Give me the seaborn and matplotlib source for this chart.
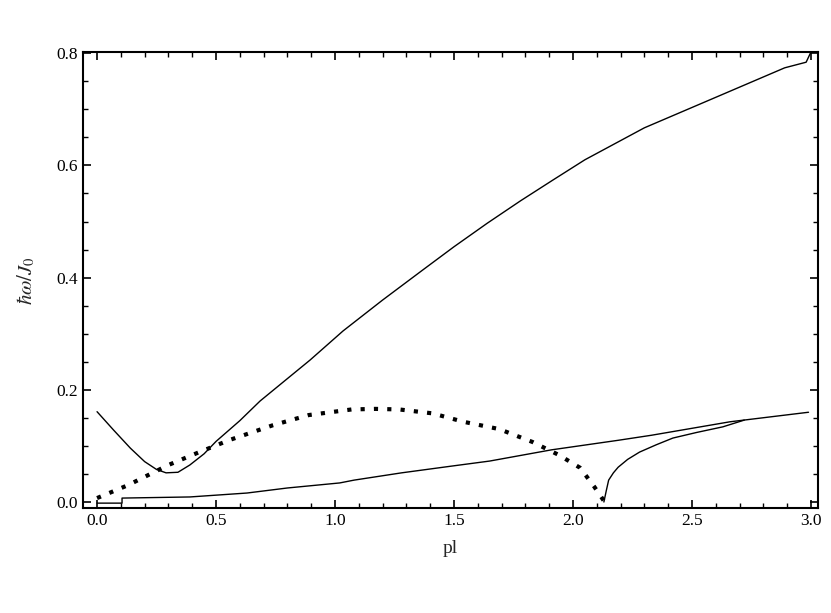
import matplotlib
matplotlib.use('Agg')
import matplotlib.pyplot as plt
from matplotlib.ticker import MultipleLocator, FormatStrFormatter
import seaborn as sns

# upper branch (solid)
upper_x = [0.0, 0.07, 0.14, 0.20, 0.25, 0.29, 0.34, 0.39, 0.45, 0.50, 0.60, 0.685,
           0.80, 0.895, 1.034, 1.20, 1.37, 1.50, 1.64, 1.78, 1.916, 2.05, 2.30, 2.62,
           2.89, 2.98, 3.00]
upper_y = [0.161, 0.128, 0.096, 0.072, 0.058, 0.052, 0.053, 0.066, 0.086, 0.108,
           0.145, 0.180, 0.220, 0.253, 0.305, 0.360, 0.414, 0.455, 0.497, 0.537,
           0.574, 0.610, 0.667, 0.725, 0.774, 0.784, 0.802]

# dotted branch
dotted_x = [0.0, 0.13, 0.215, 0.30, 0.43, 0.56, 0.74, 0.89, 0.98, 1.07, 1.17, 1.27,
            1.41, 1.54, 1.69, 1.83, 1.94, 2.03, 2.09, 2.13]
dotted_y = [0.007, 0.030, 0.048, 0.066, 0.089, 0.111, 0.137, 0.155, 0.160, 0.165,
            0.166, 0.165, 0.158, 0.143, 0.130, 0.107, 0.084, 0.061, 0.027, 0.002]

# lower branch (solid)
lower_x = [0.0, 0.105, 0.105, 0.39, 0.63, 0.80, 1.02, 1.08, 1.28, 1.49, 1.65, 1.91,
           2.19, 2.33, 2.66, 2.99]
lower_y = [-0.002, -0.002, 0.007, 0.009, 0.016, 0.025, 0.034, 0.039, 0.052, 0.064,
           0.073, 0.093, 0.110, 0.119, 0.143, 0.160]

# branch rising from the zero of the dotted curve
right_x = [2.13, 2.14, 2.15, 2.17, 2.19, 2.23, 2.28, 2.35, 2.42, 2.52, 2.63, 2.72]
right_y = [0.0, 0.02, 0.039, 0.052, 0.062, 0.076, 0.089, 0.102, 0.114, 0.124, 0.134, 0.146]

sns.set_style('ticks')
plt.rcParams['font.family'] = ['Liberation Serif', 'DejaVu Serif']
plt.rcParams['mathtext.fontset'] = 'stix'

fig = plt.figure(figsize=(8.31, 6.13), dpi=100)
ax = fig.add_axes([0.0999, 0.171, 0.8845, 0.744])

sns.lineplot(x=upper_x, y=upper_y, sort=False, estimator=None, color='black',
             linewidth=1.0, ax=ax)
sns.lineplot(x=lower_x, y=lower_y, sort=False, estimator=None, color='black',
             linewidth=1.0, ax=ax)
sns.lineplot(x=right_x, y=right_y, sort=False, estimator=None, color='black',
             linewidth=1.0, ax=ax)
sns.lineplot(x=dotted_x, y=dotted_y, sort=False, estimator=None, color='black',
             linewidth=3.0, linestyle=(0, (1, 2.2)), dash_capstyle='butt', ax=ax)

ax.set_xlim(-0.059, 3.03)
ax.set_ylim(-0.011, 0.802)
ax.xaxis.set_major_locator(MultipleLocator(0.5))
ax.xaxis.set_minor_locator(MultipleLocator(0.1))
ax.yaxis.set_major_locator(MultipleLocator(0.2))
ax.yaxis.set_minor_locator(MultipleLocator(0.05))
ax.xaxis.set_major_formatter(FormatStrFormatter('%.1f'))
ax.yaxis.set_major_formatter(FormatStrFormatter('%.1f'))
ax.tick_params(which='both', direction='in', top=True, right=True, colors='black',
               labelsize=12.5)
ax.tick_params(which='major', length=6, width=1.2)
ax.tick_params(which='minor', length=3.5, width=1.0)
for s in ax.spines.values():
    s.set_linewidth(1.5)
    s.set_color('black')

ax.set_xlabel('pl', fontsize=14, labelpad=8)
ax.set_ylabel(r'$\hbar\omega/J_0$', fontsize=15, labelpad=14)

plt.savefig('out.png', dpi=100)
